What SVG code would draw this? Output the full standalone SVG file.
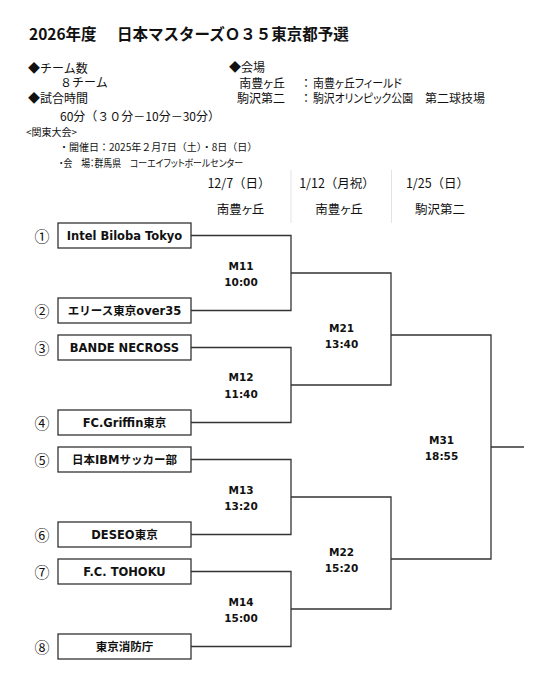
<svg xmlns="http://www.w3.org/2000/svg" width="550" height="684" viewBox="0 0 550 684">
<style>
text{fill:#111;dominant-baseline:central}
.title{font-family:"Noto Sans CJK JP",sans-serif;font-size:15.5px;font-weight:bold}
.b12{font-family:"Noto Sans CJK JP",sans-serif;font-size:12px}
.b10{font-family:"Noto Sans CJK JP",sans-serif;font-size:10px}
.p{font-feature-settings:"palt"}
.hd{font-family:"Noto Sans CJK JP",sans-serif;font-size:12.5px;text-anchor:middle}
.team{font-family:"DejaVu Sans","Noto Sans CJK JP",sans-serif;font-size:11.5px;font-weight:bold;text-anchor:middle}
.num{font-family:"Noto Sans CJK JP",sans-serif;font-size:15px;text-anchor:middle}
.ml{font-family:"DejaVu Sans",sans-serif;font-size:10.5px;font-weight:bold;text-anchor:middle}
.box{fill:#fff;stroke:#333;stroke-width:1.3}
.ln{fill:none;stroke:#333;stroke-width:1.3}
.sep{stroke:#e3e3e3;stroke-width:1}
</style>

<g id="header">
<text class="title" x="29" y="33">2026年度<tspan x="117">日本マスターズＯ３５東京都予選</tspan></text>
<text class="b12" x="28" y="67">◆チーム数</text>
<text class="b12" x="60" y="81.5">８チーム</text>
<text class="b12" x="28" y="97">◆試合時間</text>
<text class="b12" x="60" y="115">60分（３０分－10分－30分）</text>
<text class="b12" x="229" y="66.5">◆会場</text>
<text class="b12 p" x="285" y="82" text-anchor="end">南豊ヶ丘</text>
<text class="b12" x="300" y="82">：</text>
<text class="b12 p" x="313" y="82" textLength="89" lengthAdjust="spacingAndGlyphs">南豊ヶ丘フィールド</text>
<text class="b12" x="285" y="97.5" text-anchor="end">駒沢第二</text>
<text class="b12" x="300" y="97.5">：</text>
<text class="b12 p" x="313" y="97.5" textLength="100" lengthAdjust="spacingAndGlyphs">駒沢オリンピック公園</text>
<text class="b12" x="425" y="97.5">第二球技場</text>
<text class="b10" x="26" y="131.5">&lt;関東大会&gt;</text>
<text class="b10" x="59" y="146.5">・開催日：2025年２月7日（土）・8日（日）</text>
<text class="b10 p" x="59" y="162.5" textLength="184" lengthAdjust="spacingAndGlyphs">・会　場：群馬県　コーエイフットボールセンター</text>
</g>

<g id="columns">
<line class="sep" x1="291" y1="170" x2="291" y2="223"/>
<line class="sep" x1="391.5" y1="170" x2="391.5" y2="223"/>
<text class="hd" x="239" y="182.5">12/7（日）</text>
<text class="hd p" x="240.5" y="208.5">南豊ヶ丘</text>
<text class="hd" x="337" y="182.5">1/12（月祝）</text>
<text class="hd p" x="339" y="208.5">南豊ヶ丘</text>
<text class="hd" x="437.5" y="182.5">1/25（日）</text>
<text class="hd" x="440" y="208.5">駒沢第二</text>
</g>

<g id="connectors">
<path class="ln" d="M191 235.5H291V310.5H191"/>
<path class="ln" d="M191 347.5H291V422.5H191"/>
<path class="ln" d="M191 459.5H291V534.5H191"/>
<path class="ln" d="M191 571.5H291V646.5H191"/>
<path class="ln" d="M291 273H391V385H291"/>
<path class="ln" d="M291 497H391V609H291"/>
<path class="ln" d="M391 335H491V559H391"/>
<path class="ln" d="M491 447H524"/>
</g>

<g id="team1"><text class="num" x="42" y="235.5">①</text><rect class="box" x="58" y="223" width="133" height="25"/><text class="team" x="124.5" y="235.5">Intel Biloba Tokyo</text></g>
<g id="team2"><text class="num" x="42" y="310.5">②</text><rect class="box" x="58" y="298" width="133" height="25"/><text class="team" x="124.5" y="310.5">エリース東京over35</text></g>
<g id="team3"><text class="num" x="42" y="347.5">③</text><rect class="box" x="58" y="335" width="133" height="25"/><text class="team" x="124.5" y="347.5">BANDE NECROSS</text></g>
<g id="team4"><text class="num" x="42" y="422.5">④</text><rect class="box" x="58" y="410" width="133" height="25"/><text class="team" x="124.5" y="422.5">FC.Griffin東京</text></g>
<g id="team5"><text class="num" x="42" y="459.5">⑤</text><rect class="box" x="58" y="447" width="133" height="25"/><text class="team" x="124.5" y="459.5">日本IBMサッカー部</text></g>
<g id="team6"><text class="num" x="42" y="534.5">⑥</text><rect class="box" x="58" y="522" width="133" height="25"/><text class="team" x="124.5" y="534.5">DESEO東京</text></g>
<g id="team7"><text class="num" x="42" y="571.5">⑦</text><rect class="box" x="58" y="559" width="133" height="25"/><text class="team" x="124.5" y="571.5">F.C. TOHOKU</text></g>
<g id="team8"><text class="num" x="42" y="646.5">⑧</text><rect class="box" x="58" y="634" width="133" height="25"/><text class="team" x="124.5" y="646.5">東京消防庁</text></g>

<g id="M11"><text class="ml" x="241" y="265.5">M11</text><text class="ml" x="241" y="281.5">10:00</text></g>
<g id="M12"><text class="ml" x="241" y="377">M12</text><text class="ml" x="241" y="393.5">11:40</text></g>
<g id="M13"><text class="ml" x="241" y="489.5">M13</text><text class="ml" x="241" y="505.5">13:20</text></g>
<g id="M14"><text class="ml" x="241" y="601.5">M14</text><text class="ml" x="241" y="617.5">15:00</text></g>
<g id="M21"><text class="ml" x="341.5" y="327.5">M21</text><text class="ml" x="341.5" y="343.5">13:40</text></g>
<g id="M22"><text class="ml" x="341.5" y="551.5">M22</text><text class="ml" x="341.5" y="567.5">15:20</text></g>
<g id="M31"><text class="ml" x="441.5" y="439.5">M31</text><text class="ml" x="441.5" y="455.5">18:55</text></g>
</svg>
